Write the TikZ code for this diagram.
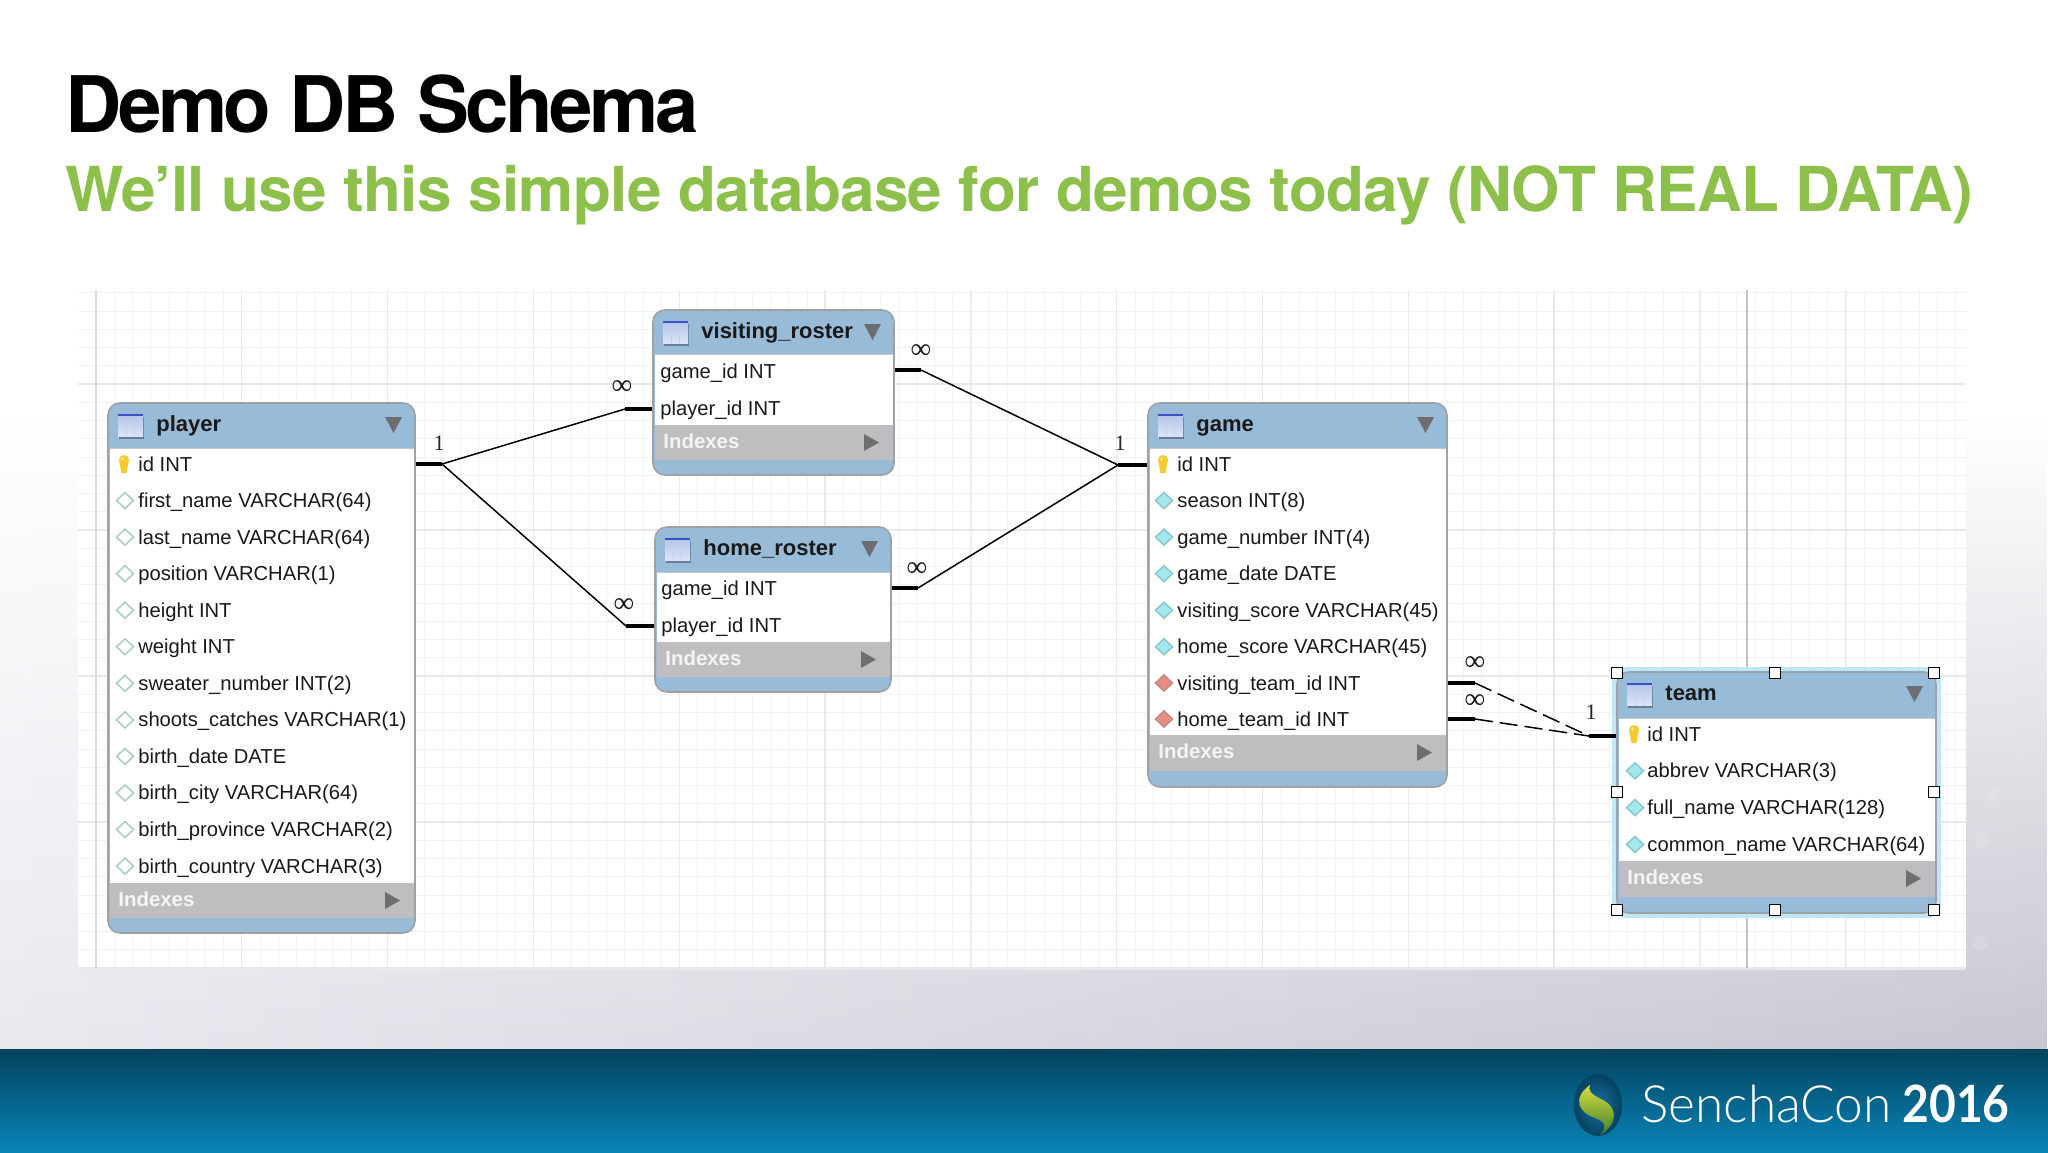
\documentclass[tikz,border=0pt]{standalone}
\usepackage{fontspec}
\usetikzlibrary{fit,calc,shapes.geometric,fadings}
\setmainfont{Liberation Sans}
\newfontfamily\heros{TeX Gyre Heros}
\newfontfamily\latolight{Lato Light}
\newfontfamily\latobold{Lato}[FakeStretch=0.9]
\newfontfamily\cardfont{Liberation Serif}
\definecolor{hdrblue}{HTML}{98BBD8}
\definecolor{idxgray}{HTML}{BFBDC0}
\definecolor{edgegray}{HTML}{9EA2A6}
\definecolor{trigray}{HTML}{6E6E70}
\definecolor{gridminor}{HTML}{F2F2F5}
\definecolor{gridmajor}{HTML}{E9E9ED}
\definecolor{subgreen}{HTML}{8CC04A}
\definecolor{foottop}{HTML}{04425E}
\definecolor{footbot}{HTML}{0985B8}
\definecolor{bgleft}{HTML}{E9E9F0}
\definecolor{bgright}{HTML}{C6C7D1}
\definecolor{diaplain}{HTML}{B0CCC8}
\definecolor{diacyan}{HTML}{A2E9EF}
\definecolor{diacyanb}{HTML}{8CC8CC}
\definecolor{diared}{HTML}{E48E86}
\definecolor{diaredb}{HTML}{C88A84}
\definecolor{keyyellow}{HTML}{F5CB2E}
\definecolor{keylight}{HTML}{FBE98A}
\definecolor{icontop}{HTML}{B4C6EA}
\definecolor{iconbot}{HTML}{DDE5F6}
\definecolor{iconstrip}{HTML}{3C50C8}
\definecolor{iconshadow}{HTML}{6B7D98}
\definecolor{iconcol}{HTML}{C4D1EC}
\definecolor{glowcol}{HTML}{BDE8F5}
\definecolor{logolight}{HTML}{1B6FA5}
\definecolor{logodark}{HTML}{04425E}
\definecolor{leaftop}{HTML}{D9DE40}
\definecolor{leafbot}{HTML}{3F7F2E}
\tikzset{
  x=0.5pt,y=-0.5pt,
  tablebox/.style={inner sep=0pt,rounded corners=6pt,fill=hdrblue,draw=edgegray,line width=0.8pt},
  rowtext/.style={anchor=base west,inner sep=0pt,font=\fontsize{10.1}{12}\selectfont,text=black!90},
  hdrtext/.style={anchor=base west,inner sep=0pt,font=\fontsize{11}{13}\selectfont\bfseries,text=black!90},
  idxtext/.style={anchor=base west,inner sep=0pt,font=\fontsize{10.2}{12}\selectfont\bfseries,text=white!92!gray},
  stub/.style={line width=2.4pt,black},
  rel/.style={line width=0.75pt,black},
  reldash/.style={line width=0.75pt,black,dash pattern=on 9pt off 3.5pt},
  card/.style={inner sep=0pt,font=\cardfont\fontsize{11}{12}\selectfont,text=black!85},
  cardinf/.style={inner sep=0pt,font=\cardfont\fontsize{14.5}{15}\selectfont,text=black!90},
  handle/.style={draw=black,fill=white,line width=0.8pt,minimum size=5.6pt,inner sep=0pt},
  speck/.style={fill=white,opacity=.14},
}
% name L R T headerbottom whiteend grayend bottom title
\newcommand{\dbtable}[9]{%
  \node[tablebox,fit={(#2,#4)(#3,#8)}] (#1) {};
  \fill[white] (#2+1.5,#5) rectangle (#3-1.5,#6);
  \fill[idxgray] (#2+1.5,#6) rectangle (#3-1.5,#7);
  \draw[edgegray!60,line width=0.4pt] (#2+1.5,#5) -- (#3-1.5,#5);
  \begin{scope}[shift={(#2+10,#4+22.5)}]
    \fill[iconshadow] (1,-9) rectangle (26,13);
    \shade[top color=icontop,bottom color=iconbot] (0,-10) rectangle (25,11);
    \fill[iconstrip] (0,-11.5) rectangle (25,-9.5);
    \draw[iconcol,line width=0.5pt] (8,-8) -- (8,11) (16,-8) -- (16,11);
  \end{scope}
  \node[hdrtext] (#1-title) at (#2+48,#4+28.5) {#9};
  \fill[trigray] (#3-30,#4+14) -- (#3-13,#4+14) -- (#3-21.5,#4+30) -- cycle;
  \node[idxtext] (#1-idx) at (#2+10,#6+23) {Indexes};
  \fill[trigray] (#3-30,#6+9) -- (#3-30,#6+26) -- (#3-15,#6+17.5) -- cycle;
}
\newcommand{\keyicon}[2]{%
  \fill[keyyellow] (#1-5,#2-4) arc (180:360:5) -- (#1+2.5,#2+9) -- (#1-2.5,#2+9) -- cycle;
  \fill[keylight] (#1-1.5,#2-5) circle (1.8);
}
\newcommand{\dia}[4]{% x y fill border
  \fill[#3,draw=#4,line width=0.8pt] (#1,#2-8) -- (#1+8.5,#2) -- (#1,#2+8) -- (#1-8.5,#2) -- cycle;
}
\begin{document}
\begin{tikzpicture}
\useasboundingbox (0,0) rectangle (2048,1152);
% background
\fill[white] (0,0) rectangle (2048,1152);
\shade[left color=bgleft,right color=bgright,path fading=north] (0,420) rectangle (2048,1049);
\fill[speck] (1993,795) circle (6);
\fill[speck] (1982,840) circle (8);
\fill[speck] (1980,943) circle (8);
% grid
\fill[white] (78,290) rectangle (1966,969);
\begin{scope}
\clip (78,290) rectangle (1966,969);
\foreach \k in {0,...,104}{\draw[gridminor,line width=.4pt] ({96+18.23*\k},290) -- ({96+18.23*\k},969);}
\foreach \k in {-6,...,32}{\draw[gridminor,line width=.4pt] (78,{384+18.25*\k}) -- (1966,{384+18.25*\k});}
\foreach \k in {0,...,13}{\draw[gridmajor,line width=.6pt] ({96+145.8*\k},290) -- ({96+145.8*\k},969);}
\foreach \k in {-1,...,4}{\draw[gridmajor,line width=.6pt] (78,{384+146*\k}) -- (1966,{384+146*\k});}
\draw[black!14,line width=.6pt] (96,290) -- (96,969);
\draw[black!24,line width=.7pt] (1747,290) -- (1747,969);
\end{scope}
\draw[gridmajor,line width=.8pt] (78,969) -- (1966,969);
% footer
\shade[top color=foottop,bottom color=footbot] (0,1049) rectangle (2048,1152);
% title
\node[anchor=base west,inner sep=0pt,font=\heros\bfseries\fontsize{39}{44}\selectfont\addfontfeature{LetterSpace=-4.5},text=black] (title) at (65,132) {Demo DB Schema};
\node[anchor=base west,inner sep=0pt,font=\heros\bfseries\fontsize{31}{36}\selectfont\addfontfeature{LetterSpace=-1.12},text=subgreen] (subtitle) at (65,211) {We’ll use this simple database for demos today (NOT REAL DATA)};
% team glow
\fill[glowcol,rounded corners=7pt] (1612,667) rectangle (1941,918);
% tables
\dbtable{player}{108}{415}{403}{448}{883}{918}{933}{player}
\dbtable{vr}{653}{894}{310}{354}{425}{460}{475}{visiting\_roster}
\dbtable{hr}{655}{891}{527}{572}{642}{677}{692}{home\_roster}
\dbtable{game}{1148}{1447}{403}{448}{735}{771}{787}{game}
\dbtable{team}{1617}{1936}{672}{718}{861}{897}{913}{team}
% player rows
\keyicon{124}{464}
\node[rowtext] (pid) at (138,471) {id INT};
\foreach \t [count=\i] in {first\_name VARCHAR(64),last\_name VARCHAR(64),position VARCHAR(1),height INT,weight INT,sweater\_number INT(2),shoots\_catches VARCHAR(1),birth\_date DATE,birth\_city VARCHAR(64),birth\_province VARCHAR(2),birth\_country VARCHAR(3)}{
  \dia{125}{464+36.55*\i}{white}{diaplain}
  \node[rowtext] (p\i) at (138,{471+36.55*\i}) {\t};
}
% rosters
\node[rowtext] (vg) at (660,378) {game\_id INT};
\node[rowtext] (vp) at (660,415) {player\_id INT};
\node[rowtext] (hg) at (661,595) {game\_id INT};
\node[rowtext] (hp) at (661,632) {player\_id INT};
% game rows
\keyicon{1163}{464}
\node[rowtext] (gid) at (1177,471) {id INT};
\foreach \t [count=\i] in {season INT(8),game\_number INT(4),game\_date DATE,visiting\_score VARCHAR(45),home\_score VARCHAR(45)}{
  \dia{1164}{464+36.55*\i}{diacyan}{diacyanb}
  \node[rowtext] (g\i) at (1177,{471+36.55*\i}) {\t};
}
\dia{1164}{683}{diared}{diaredb}
\node[rowtext] (gv) at (1177,690) {visiting\_team\_id INT};
\dia{1164}{719}{diared}{diaredb}
\node[rowtext] (gh) at (1177,726) {home\_team\_id INT};
% team rows
\keyicon{1634}{734}
\node[rowtext] (tid) at (1647,741) {id INT};
\foreach \t [count=\i] in {abbrev VARCHAR(3),full\_name VARCHAR(128),common\_name VARCHAR(64)}{
  \dia{1635}{734+36.8*\i}{diacyan}{diacyanb}
  \node[rowtext] (t\i) at (1647,{741+36.8*\i}) {\t};
}
% handles
\foreach \hx/\hy/\hn in {1617/673/a,1775/673/b,1934/673/c,1617/792/d,1934/792/e,1617/910/f,1775/910/g,1934/910/h}{
  \node[handle] (h\hn) at (\hx,\hy) {};
}
% connectors: player -> rosters
\coordinate (j1) at (442,464);
\coordinate (j2) at (625,409);
\coordinate (j3) at (626,626);
\draw[stub] (player.east |- j1) -- (j1);
\draw[stub] (j2) -- (vr.west |- j2);
\draw[stub] (j3) -- (hr.west |- j3);
\draw[rel] (j1) -- (j2);
\draw[rel] (j1) -- (j3);
% rosters -> game
\coordinate (j4) at (921,370);
\coordinate (j5) at (918,588);
\coordinate (j6) at (1118,465);
\draw[stub] (vr.east |- j4) -- (j4);
\draw[stub] (hr.east |- j5) -- (j5);
\draw[stub] (j6) -- (game.west |- j6);
\draw[rel] (j4) -- (j6);
\draw[rel] (j5) -- (j6);
% game -> team
\coordinate (j7) at (1475,683);
\coordinate (j8) at (1475,719);
\coordinate (j9) at (1589,736);
\draw[stub] (game.east |- j7) -- (j7);
\draw[stub] (game.east |- j8) -- (j8);
\draw[stub] (j9) -- (team.west |- j9);
\draw[reldash] (j7) -- (j9);
\draw[reldash] (j8) -- (j9);
% cardinalities
\node[card] (c1) at (439,443) {1};
\node[cardinf] (c2) at (622,388) {∞};
\node[cardinf] (c3) at (624,606) {∞};
\node[cardinf] (c4) at (921,352) {∞};
\node[cardinf] (c5) at (917,570) {∞};
\node[card] (c6) at (1120,443) {1};
\node[cardinf] (c7) at (1475,664) {∞};
\node[cardinf] (c8) at (1475,702) {∞};
\node[card] (c9) at (1591,712) {1};
% logo
\shade[inner color=logolight,outer color=logodark] (1598,1105) ellipse (24 and 31);
\shade[top color=leaftop,bottom color=leafbot] (1590,1085) .. controls (1572,1098) and (1578,1112) .. (1595,1118) .. controls (1608,1122) and (1605,1130) .. (1600,1135) .. controls (1618,1124) and (1618,1108) .. (1603,1100) .. controls (1590,1094) and (1588,1090) .. (1590,1085) -- cycle;
% brand
\node[anchor=base west,inner sep=0pt,font=\latolight\fontsize{25.7}{28}\selectfont,text=white] (brand) at (1641,1122) {SenchaCon};
\node[anchor=base west,inner sep=0pt,font=\latobold\bfseries\fontsize{25.7}{28}\selectfont,text=white] (year) at (1902,1122) {2016};
\end{tikzpicture}
\end{document}
